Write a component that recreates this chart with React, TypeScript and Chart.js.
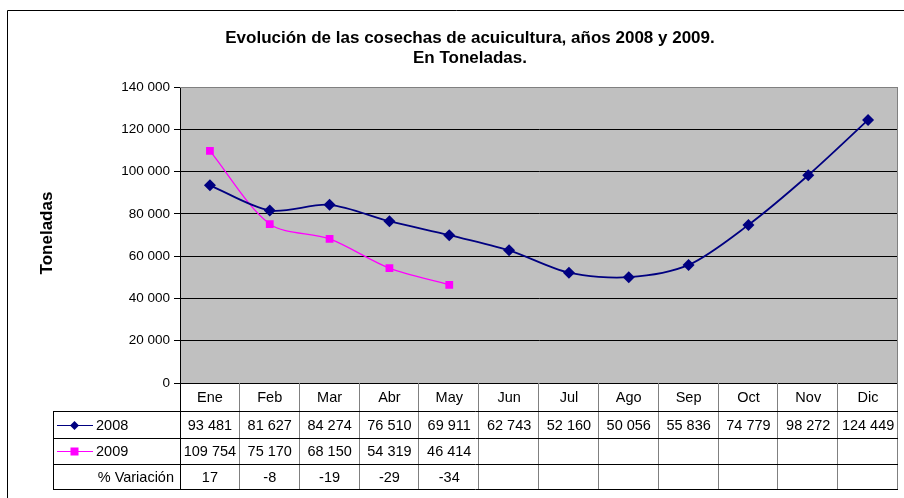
import React, { useEffect, useRef } from "react";
import { Chart, registerables } from "chart.js";

Chart.register(...registerables);

const months = ["Ene", "Feb", "Mar", "Abr", "May", "Jun", "Jul", "Ago", "Sep", "Oct", "Nov", "Dic"];
const values2008 = [93481, 81627, 84274, 76510, 69911, 62743, 52160, 50056, 55836, 74779, 98272, 124449];
const values2009: (number | null)[] = [109754, 75170, 68150, 54319, 46414, null, null, null, null, null, null, null];
const variation: (number | null)[] = [17, -8, -19, -29, -34, null, null, null, null, null, null, null];
const titleLines = ["Evolución de las cosechas de acuicultura, años 2008 y 2009.", "En Toneladas."];
const yTitle = "Toneladas";

const FONT = "'Liberation Sans', Arial, sans-serif";
const TABLE_FONT = `14.5px ${FONT}`;
const fmt = (v: number | null) =>
  v === null || v === undefined ? "" : String(v).replace(/\B(?=(\d{3})+(?!\d))/g, " ");

const decorPlugin = {
  id: "decor",
  beforeDraw(chart: any) {
    const { ctx, chartArea } = chart;
    ctx.save();
    ctx.fillStyle = "#ffffff";
    ctx.fillRect(0, 0, chart.width, chart.height);
    ctx.fillStyle = "#C0C0C0";
    ctx.fillRect(chartArea.left, chartArea.top, chartArea.right - chartArea.left, chartArea.bottom - chartArea.top);
    ctx.strokeStyle = "#000";
    ctx.lineWidth = 1;
    ctx.beginPath();
    ctx.moveTo(7.5, chart.height + 5);
    ctx.lineTo(7.5, 10.5);
    ctx.lineTo(chart.width + 5, 10.5);
    ctx.stroke();
    ctx.restore();
  },
  afterDraw(chart: any) {
    const { ctx, chartArea } = chart;
    const xs = chart.scales.x;
    ctx.save();
    ctx.strokeStyle = "#808080";
    ctx.lineWidth = 1;
    ctx.beginPath();
    ctx.moveTo(chartArea.left, Math.round(chartArea.top) + 0.5);
    ctx.lineTo(Math.round(chartArea.right) - 0.5, Math.round(chartArea.top) + 0.5);
    ctx.lineTo(Math.round(chartArea.right) - 0.5, Math.round(chartArea.bottom));
    ctx.stroke();

    // Title
    ctx.fillStyle = "#000";
    ctx.textAlign = "center";
    ctx.textBaseline = "middle";
    ctx.font = `bold 17px ${FONT}`;
    const cx = 470;
    ctx.fillText(titleLines[0], cx, 38);
    ctx.fillText(titleLines[1], cx, 58);

    // Y title
    ctx.save();
    ctx.translate(47, 233);
    ctx.rotate(-Math.PI / 2);
    ctx.font = `bold 17px ${FONT}`;
    ctx.fillText(yTitle, 0, 0);
    ctx.restore();

    // Data table
    const left = Math.round(chartArea.left);
    const right = Math.round(chartArea.right);
    const top = Math.round(chartArea.bottom);
    const rows = [top, 411, 438, 464, 489];
    const tableLeft = 53;
    const n = months.length;
    const w = (right - left) / n;

    ctx.strokeStyle = "#808080";
    ctx.beginPath();
    for (let i = 1; i <= n; i++) {
      const x = Math.round(left + i * w) - 0.5;
      ctx.moveTo(x, top);
      ctx.lineTo(x, rows[4]);
    }
    ctx.stroke();

    ctx.strokeStyle = "#000";
    ctx.beginPath();
    for (let r = 1; r < rows.length; r++) {
      ctx.moveTo(tableLeft, rows[r] + 0.5);
      ctx.lineTo(right, rows[r] + 0.5);
    }
    ctx.moveTo(left + 0.5, top);
    ctx.lineTo(left + 0.5, rows[4] + 1);
    ctx.moveTo(tableLeft + 0.5, rows[1]);
    ctx.lineTo(tableLeft + 0.5, rows[4] + 1);
    ctx.stroke();

    ctx.font = TABLE_FONT;
    ctx.textBaseline = "middle";
    ctx.textAlign = "center";
    for (let i = 0; i < n; i++) {
      const x = xs.getPixelForValue(i);
      ctx.fillText(months[i], x, (rows[0] + rows[1]) / 2 + 1);
      ctx.fillText(fmt(values2008[i]), x, (rows[1] + rows[2]) / 2 + 1);
      ctx.fillText(fmt(values2009[i]), x, (rows[2] + rows[3]) / 2 + 1);
      ctx.fillText(variation[i] === null ? "" : String(variation[i]), x, (rows[3] + rows[4]) / 2 + 1);
    }

    const keyY1 = Math.round((rows[1] + rows[2]) / 2) + 0.5;
    const keyY2 = Math.round((rows[2] + rows[3]) / 2) + 0.5;
    ctx.lineWidth = 1;
    ctx.strokeStyle = "#000080";
    ctx.beginPath();
    ctx.moveTo(57, keyY1);
    ctx.lineTo(93, keyY1);
    ctx.stroke();
    ctx.fillStyle = "#000080";
    ctx.beginPath();
    ctx.moveTo(74.5, keyY1 - 4.5);
    ctx.lineTo(79, keyY1);
    ctx.lineTo(74.5, keyY1 + 4.5);
    ctx.lineTo(70, keyY1);
    ctx.closePath();
    ctx.fill();

    ctx.strokeStyle = "#FF00FF";
    ctx.beginPath();
    ctx.moveTo(57, keyY2);
    ctx.lineTo(93, keyY2);
    ctx.stroke();
    ctx.fillStyle = "#FF00FF";
    ctx.fillRect(70.5, keyY2 - 4, 8, 8);

    ctx.fillStyle = "#000";
    ctx.textAlign = "left";
    ctx.fillText("2008", 96, keyY1 + 0.5);
    ctx.fillText("2009", 96, keyY2 + 0.5);
    ctx.textAlign = "right";
    ctx.fillText("% Variación", 174, (rows[3] + rows[4]) / 2 + 1);
    ctx.restore();
  },
};

export default function App() {
  const ref = useRef<HTMLCanvasElement | null>(null);
  useEffect(() => {
    if (!ref.current) return;
    const chart = new Chart(ref.current, {
      type: "line",
      data: {
        labels: months,
        datasets: [
          {
            label: "2008",
            data: values2008,
            borderColor: "#000080",
            backgroundColor: "#000080",
            borderWidth: 1.8,
            pointStyle: "rectRot",
            pointRadius: 6,
            pointBorderWidth: 0,
            tension: 0.3,
            fill: false,
          },
          {
            label: "2009",
            data: values2009,
            borderColor: "#FF00FF",
            backgroundColor: "#FF00FF",
            borderWidth: 1.3,
            pointStyle: "rect",
            pointRadius: 5.5,
            pointBorderWidth: 0,
            tension: 0.3,
            fill: false,
          },
        ],
      },
      options: {
        animation: false,
        responsive: false,
        devicePixelRatio: 1,
        layout: { padding: { left: 0, top: 87, right: 4, bottom: 115 } },
        plugins: {
          legend: { display: false },
          title: { display: false },
          tooltip: { enabled: false },
        },
        scales: {
          x: {
            type: "category",
            offset: true,
            display: false,
          },
          y: {
            min: 0,
            max: 140000,
            afterFit: (scale: any) => {
              scale.width = 180;
            },
            ticks: {
              stepSize: 20000,
              color: "#000",
              padding: 4,
              font: { family: FONT, size: 13.5 },
              callback: (v: any) => fmt(Number(v)),
            },
            grid: {
              color: (c: any) => (c.tick && c.tick.value === 140000 ? "#808080" : "#000"),
              lineWidth: 1,
              tickLength: 6,
              tickColor: "#000",
              drawOnChartArea: true,
            },
            border: { display: true, color: "#000", width: 1 },
          },
        },
      },
      plugins: [decorPlugin],
    });
    return () => chart.destroy();
  }, []);
  return (
    <div style={{ position: "absolute", left: 0, top: 0, width: 904, height: 498, background: "#fff" }}>
      <canvas ref={ref} width={904} height={498} style={{ display: "block", width: 904, height: 498 }} />
    </div>
  );
}
